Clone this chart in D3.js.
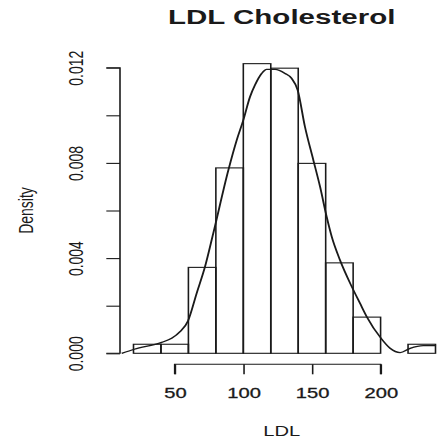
<!DOCTYPE html>
<html>
<head>
<meta charset="utf-8">
<script src="https://cdn.jsdelivr.net/npm/d3@7"></script>
<style>
  html, body { margin: 0; padding: 0; background: #ffffff; }
  svg { display: block; }
  text { font-family: "Liberation Sans", Arial, sans-serif; fill: #1a1a1a; }
</style>
</head>
<body>
<svg id="chart" width="437" height="441"></svg>
<script>
// Histogram bins (LDL, mg/dL) and their densities
const binStarts = [20, 40, 60, 80, 100, 120, 140, 160, 180, 200, 220];
const binWidth = 20;
const densities = [0.00038, 0.00038, 0.00361, 0.00779, 0.01217, 0.01198, 0.00798, 0.00380, 0.00152, 0, 0.00038];

// Kernel density estimate, sampled along LDL
const kdeX = [11.4, 20.6, 40.5, 47.8, 53.9, 59.7, 66, 72.1, 78.1, 89.1, 95.2, 100, 104.9, 108.5, 113.4, 117,
              123.1, 130.4, 135.2, 139.6, 144.9, 151, 155.9, 160.7, 164.4, 170.4, 179, 185, 189.9, 200.3,
              206.9, 214.2, 221.5, 231.1, 240.4];
const kdeY = [0, 0.00017, 0.00046, 0.00063, 0.00091, 0.00136, 0.00252, 0.00364, 0.00504, 0.0077, 0.00896,
              0.0098, 0.01078, 0.01127, 0.01176, 0.01193, 0.01193, 0.01176, 0.01155, 0.01106, 0.00952, 0.00812,
              0.007, 0.00574, 0.0049, 0.00392, 0.0028, 0.0021, 0.00154, 0.00063, 0.00021, 0.00003, 0.00021,
              0.00032, 0.00032];

// Axis ticks
const xTicks = [50, 100, 150, 200];
const yTicks = [0, 0.002, 0.004, 0.006, 0.008, 0.010, 0.012];
const yTickLabels = ["0.000", "", "0.004", "", "0.008", "", "0.012"];

// The whole plot is drawn in a coordinate frame stretched horizontally
const sx = 1.44;
const svg = d3.select("#chart");
const g = svg.append("g").attr("transform", `scale(${sx},1)`);

const x = d3.scaleLinear().domain([20, 240]).range([133.5 / sx, 435.5 / sx]);
const y = d3.scaleLinear().domain([0, 0.012]).range([353.3, 67.7]);

const ink = "#1a1a1a";

// Bars
g.append("g").selectAll("rect")
  .data(binStarts.map((s, i) => ({ s, d: densities[i] })))
  .join("rect")
  .attr("x", d => x(d.s))
  .attr("width", d => x(d.s + binWidth) - x(d.s))
  .attr("y", d => y(d.d))
  .attr("height", d => y(0) - y(d.d))
  .attr("fill", "none")
  .attr("stroke", ink)
  .attr("stroke-width", 1.1);

// Density curve
const line = d3.line()
  .x(d => x(d[0]))
  .y(d => y(d[1]))
  .curve(d3.curveMonotoneX);
g.append("path")
  .datum(kdeX.map((v, i) => [v, kdeY[i]]))
  .attr("d", line)
  .attr("fill", "none")
  .attr("stroke", ink)
  .attr("stroke-width", 1.3);

// X axis
const xAxisY = 364.3;
const xAxis = d3.axisBottom(x).tickValues(xTicks).tickSize(10).tickFormat(d3.format("d"));
const gx = g.append("g").attr("transform", `translate(0,${xAxisY})`).call(xAxis);
gx.select(".domain").attr("d", `M${x(50)},10V0H${x(200)}V10`).attr("stroke", ink).attr("stroke-width", 1.1);
gx.selectAll(".tick line").attr("stroke", ink).attr("stroke-width", 1.1);
gx.selectAll(".tick text").attr("font-size", 14).attr("font-family", "Liberation Sans, Arial, sans-serif")
  .attr("fill", ink).attr("stroke", ink).attr("stroke-width", 0.3)
  .attr("dy", null).attr("y", 34);

// Y axis
const yAxisX = 120 / sx;
const yAxis = d3.axisLeft(y).tickValues(yTicks).tickSize(9.5).tickPadding(0)
  .tickFormat((d, i) => yTickLabels[i]);
const gy = g.append("g").attr("transform", `translate(${yAxisX},0)`).call(yAxis);
gy.select(".domain").attr("d", `M-9.5,${y(0.012)}H0V${y(0)}H-9.5`).attr("stroke", ink).attr("stroke-width", 1.1);
gy.selectAll(".tick line").attr("stroke", ink).attr("stroke-width", 1.1);
gy.selectAll(".tick text")
  .attr("font-size", 14).attr("font-family", "Liberation Sans, Arial, sans-serif").attr("fill", ink)
  .attr("x", null).attr("dy", null)
  .attr("text-anchor", "middle")
  .attr("transform", `translate(${-26},0) rotate(-90)`);

// Title and axis titles
g.append("text")
  .attr("x", 281.7 / sx).attr("y", 24)
  .attr("text-anchor", "middle")
  .attr("font-size", 20.5).attr("font-weight", "bold")
  .text("LDL Cholesterol");

g.append("text")
  .attr("x", 281.7 / sx).attr("y", 436)
  .attr("text-anchor", "middle")
  .attr("font-size", 14)
  .text("LDL");

g.append("text")
  .attr("transform", `translate(${33 / sx},${y(0.006)}) rotate(-90)`)
  .attr("text-anchor", "middle")
  .attr("font-size", 14)
  .text("Density");
</script>
</body>
</html>
